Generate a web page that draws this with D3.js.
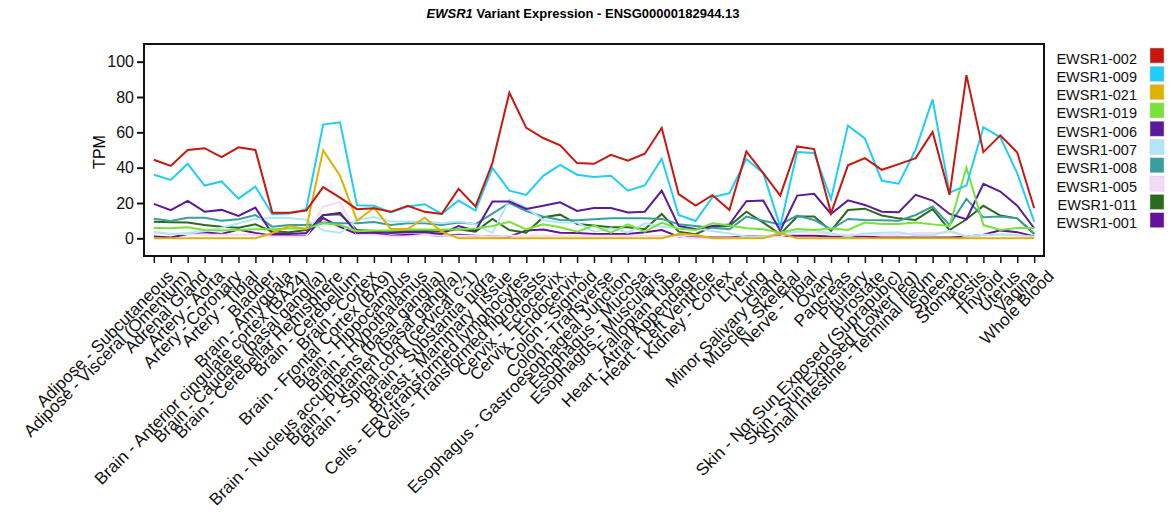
<!DOCTYPE html>
<meta charset="utf-8">
<script src="https://d3js.org/d3.v7.min.js"></script>
<style>
  body { margin: 0; background: #fff; }
  text { font-family: "Liberation Sans", Arial, Helvetica, sans-serif; }
</style>
<div id="viz"></div>
<script>

// tissues along the x axis
const tissues = [
  "Adipose - Subcutaneous", "Adipose - Visceral (Omentum)", "Adrenal Gland", "Artery - Aorta",
  "Artery - Coronary", "Artery - Tibial", "Bladder", "Brain - Amygdala",
  "Brain - Anterior cingulate cortex (BA24)", "Brain - Caudate (basal ganglia)",
  "Brain - Cerebellar Hemisphere", "Brain - Cerebellum", "Brain - Cortex",
  "Brain - Frontal Cortex (BA9)", "Brain - Hippocampus", "Brain - Hypothalamus",
  "Brain - Nucleus accumbens (basal ganglia)", "Brain - Putamen (basal ganglia)",
  "Brain - Spinal cord (cervical c-1)", "Brain - Substantia nigra", "Breast - Mammary Tissue",
  "Cells - EBV-transformed lymphocytes", "Cells - Transformed fibroblasts", "Cervix - Ectocervix",
  "Cervix - Endocervix", "Colon - Sigmoid", "Colon - Transverse",
  "Esophagus - Gastroesophageal Junction", "Esophagus - Mucosa", "Esophagus - Muscularis",
  "Fallopian Tube", "Heart - Atrial Appendage", "Heart - Left Ventricle", "Kidney - Cortex",
  "Liver", "Lung", "Minor Salivary Gland", "Muscle - Skeletal", "Nerve - Tibial", "Ovary",
  "Pancreas", "Pituitary", "Prostate", "Skin - Not Sun Exposed (Suprapubic)",
  "Skin - Sun Exposed (Lower leg)", "Small Intestine - Terminal Ileum", "Spleen", "Stomach",
  "Testis", "Thyroid", "Uterus", "Vagina", "Whole Blood"
];

const isoforms = ["EWSR1-002", "EWSR1-009", "EWSR1-021", "EWSR1-019", "EWSR1-006",
                  "EWSR1-007", "EWSR1-008", "EWSR1-005", "EWSR1-011", "EWSR1-001"];
const colors = ["#c8170d", "#1fcdfa", "#e0b200", "#77e23a", "#5a1a9a",
                "#b3e5f8", "#3a9e9e", "#f3dbf7", "#2a6b1f", "#66109c"];

const yTicks = [0, 20, 40, 60, 80, 100];

// TPM values per isoform, one per tissue
const tpm002 = [44.5, 41, 50, 51, 46, 51.5, 50, 14.5, 14.5, 15.7, 29, 23, 16.5, 17, 15, 18.4, 15, 13.8, 28, 18,
  42.6, 82.4, 62.5, 56.8, 52.6, 42.6, 42.2, 47.3, 43.9, 47.9, 62.5, 25, 18.5, 24.4, 16, 49.2, 36.9, 24.2, 52, 50.5,
  14.2, 41.3, 45.4, 38.8, 42, 45.4, 60.2, 24.6, 92.4, 48.8, 58.3, 48.6, 17];
const tpm009 = [36, 33.1, 42.2, 29.9, 32.2, 22.5, 29.3, 13.6, 14, 16.5, 64.4, 65.7, 18.7, 18.4, 14.6, 18, 19.3, 13.8, 21.4, 15.7,
  39.8, 27, 24.6, 35.4, 41.6, 36, 34.7, 35.4, 27, 29.9, 45, 13.2, 9.8, 23.3, 25.6, 44.9, 36.9, 6.6, 48.9, 48.3,
  22.2, 63.8, 56.6, 32.6, 30.9, 50.2, 78.6, 25.9, 29.9, 62.9, 57.2, 36.9, 9.4];
const tpm021 = [0, 0, 0, 0, 0, 0, 0, 3, 7, 5.3, 49.8, 35.4, 10, 17.4, 5.3, 5.3, 11.7, 3.8, 0, 0,
  0, 0, 0, 0, 0, 0, 0, 0, 0, 0, 0, 2.5, 2, 0, 0, 0, 0, 3, 0, 0,
  0, 0, 0, 0, 0, 0, 0, 0, 0, 0, 0, 0, 0];
const tpm019 = [5.8, 5.7, 6.3, 4.7, 4.5, 4.7, 5.1, 5.1, 5.5, 5.5, 8.5, 7.6, 4, 4.5, 4.5, 5, 5, 5, 5, 5.5,
  7, 9.4, 5.1, 7.9, 6.3, 3.8, 7.2, 3.2, 7.9, 3.8, 8.9, 5.4, 4.7, 8.5, 7.2, 5.7, 5.1, 3.2, 5.3, 4.7,
  5.7, 4.7, 8.9, 8.1, 8.1, 8.9, 7.9, 7, 40.1, 7.5, 4.7, 5.9, 5.9];
const tpm006 = [19.5, 16, 21.2, 15.1, 16.1, 12.7, 17.4, 2.4, 2.5, 3, 13, 14.5, 3, 3.5, 3, 3.5, 3.5, 2.5, 7, 4.3,
  20.8, 20.8, 16.6, 18.5, 20.4, 15.5, 17.2, 17.2, 14.6, 15.1, 27, 7, 5.1, 7, 7.9, 21, 21.4, 4.3, 24.2, 25.2,
  13.8, 21.5, 18.9, 15.1, 14.8, 24.6, 21.4, 13.8, 10.8, 30.9, 26.5, 18.5, 5.7];
const tpm007 = [3.8, 2.5, 3, 4, 6, 8.5, 11, 11.5, 11.5, 10.5, 4.5, 3, 10.5, 12, 9.5, 9.5, 9.5, 8.5, 9.5, 8,
  3, 22, 17.4, 10.4, 8.9, 8.9, 3.8, 5.7, 3.2, 8.5, 6.6, 5.7, 5.7, 4.1, 2.8, 0.9, 0.9, 2.8, 3.8, 4.7,
  2.8, 1, 2.8, 3.2, 3.5, 1.8, 1.8, 4.3, 1, 1.8, 2.3, 1.8, 1];
const tpm008 = [11.1, 9.8, 11.7, 11.7, 10, 10.8, 13.2, 6.6, 7.5, 7.5, 8.9, 8.5, 8.5, 9.3, 7.5, 8.5, 8.5, 7.6, 8.9, 8.1,
  14, 20, 15.5, 12.3, 10.4, 10.2, 10.8, 11.3, 11.3, 11.3, 11, 8, 7, 6, 5.1, 12.3, 10, 7.9, 12.9, 10.4,
  5.1, 11, 10.4, 10.2, 10, 13.2, 18, 7.5, 22.3, 11.9, 12.3, 11.3, 2.8];
const tpm005 = [3, 2.5, 2.5, 2, 2, 2, 2, 1, 1, 1, 18, 20.5, 2, 2, 1, 1, 2, 1.5, 1.5, 1.5,
  1, 1.5, 1.5, 1.5, 1.5, 1.5, 1.5, 1.5, 1.5, 1.5, 1.5, 1, 0, 0, 0, 0.5, 1, 1, 3.5, 3.5,
  2, 2, 2, 2, 2, 3, 3, 3.5, 1, 2, 2, 1.5, 0.5];
const tpm011 = [9.4, 9.1, 9, 7.6, 6.6, 6, 7.9, 3.8, 3.5, 4.7, 13.2, 13.6, 4.7, 4.1, 4, 4, 4.1, 3.8, 5.1, 3.8,
  11, 4.7, 3.2, 11.9, 13.4, 8.1, 7.2, 6.3, 6.3, 5.1, 13.8, 3.8, 2.3, 6.6, 7, 15.1, 8.9, 2.3, 12.3, 12.3,
  4.3, 16, 16.8, 12.9, 11.3, 10.4, 16.6, 4.7, 10.8, 18.4, 12.9, 11.3, 2.4];
const tpm001 = [1, 0.5, 2.5, 3.5, 2.5, 5, 3, 1.5, 1.5, 1.5, 11.5, 6.5, 2.5, 3, 1.5, 2, 2, 1.5, 2, 1.5,
  1, 1, 4.5, 5, 3.2, 3, 2.5, 2.5, 2.5, 3.5, 4.7, 1, 0.5, 0.5, 0.5, 1, 1, 1.5, 1.5, 1.5,
  1, 1, 1, 0.5, 0.5, 0.5, 0.5, 0.5, 1, 2, 4.5, 3.5, 1];

const values = [tpm002, tpm009, tpm021, tpm019, tpm006, tpm007, tpm008, tpm005, tpm011, tpm001];

const W = 1172, H = 512;
const margin = {top: 44, right: 128, bottom: 256, left: 144};
const width = W - margin.left - margin.right,
      height = H - margin.top - margin.bottom;

const svg = d3.select("#viz").append("svg")
    .attr("width", W)
    .attr("height", H);

const g = svg.append("g")
    .attr("transform", `translate(${margin.left},${margin.top})`);

// title
svg.append("text")
    .attr("x", 583).attr("y", 18)
    .attr("text-anchor", "middle")
    .style("font-size", "13px")
    .style("font-weight", "bold")
    .call(t => {
      t.append("tspan").style("font-style", "italic").text("EWSR1");
      t.append("tspan").text(" Variant Expression - ENSG00000182944.13");
    });

const x = d3.scalePoint()
    .domain(tissues)
    .range([0, width])
    .padding(0.58);

const y = d3.scaleLinear()
    .domain([-10, 110])
    .range([height, 0]);

// frame
g.append("rect")
    .attr("width", width).attr("height", height)
    .attr("fill", "none").attr("stroke", "#111").attr("stroke-width", 2);

// y axis
const yAxis = g.append("g")
    .call(d3.axisLeft(y).tickValues(yTicks).tickSize(7).tickPadding(3));
yAxis.select(".domain").remove();
yAxis.selectAll("line").attr("stroke", "#111").attr("stroke-width", 2);
yAxis.selectAll("text").style("font-size", "16px").attr("fill", "#111");

svg.append("text")
    .attr("transform", "translate(105,152)rotate(-90)")
    .attr("text-anchor", "middle")
    .style("font-size", "16px")
    .text("TPM");

// x axis
const xAxis = g.append("g")
    .attr("transform", `translate(0,${height})`)
    .call(d3.axisBottom(x).tickSize(7).tickPadding(3));
xAxis.select(".domain").remove();
xAxis.selectAll("line").attr("stroke", "#111").attr("stroke-width", 1.5);
xAxis.selectAll("text")
    .style("font-size", "17px")
    .attr("fill", "#111")
    .attr("text-anchor", "end")
    .attr("dy", "0.35em")
    .attr("transform", "translate(9,10)rotate(-45)");

// lines, first isoform drawn last so it sits on top
const line = d3.line()
    .x((d, i) => x(tissues[i]))
    .y(d => y(d));

const order = d3.range(isoforms.length).reverse();
g.selectAll(".series")
  .data(order)
  .enter().append("path")
    .attr("class", "series")
    .attr("fill", "none")
    .attr("stroke", k => colors[k])
    .attr("stroke-width", 2)
    .attr("stroke-linejoin", "miter")
    .attr("d", k => line(values[k]));

// legend
const legend = svg.append("g")
    .attr("transform", "translate(1137,56)");

const item = legend.selectAll(".item")
  .data(isoforms)
  .enter().append("g")
    .attr("transform", (d, i) => `translate(0,${i * 18.3})`);

item.append("text")
    .attr("text-anchor", "end")
    .attr("y", 7.5)
    .style("font-size", "14.5px")
    .attr("fill", "#111")
    .text(d => d);

item.append("rect")
    .attr("x", 13).attr("y", -8)
    .attr("width", 14).attr("height", 15)
    .attr("fill", (d, i) => colors[i])
    .attr("stroke", "#ccc").attr("stroke-width", 0.5);

</script>
